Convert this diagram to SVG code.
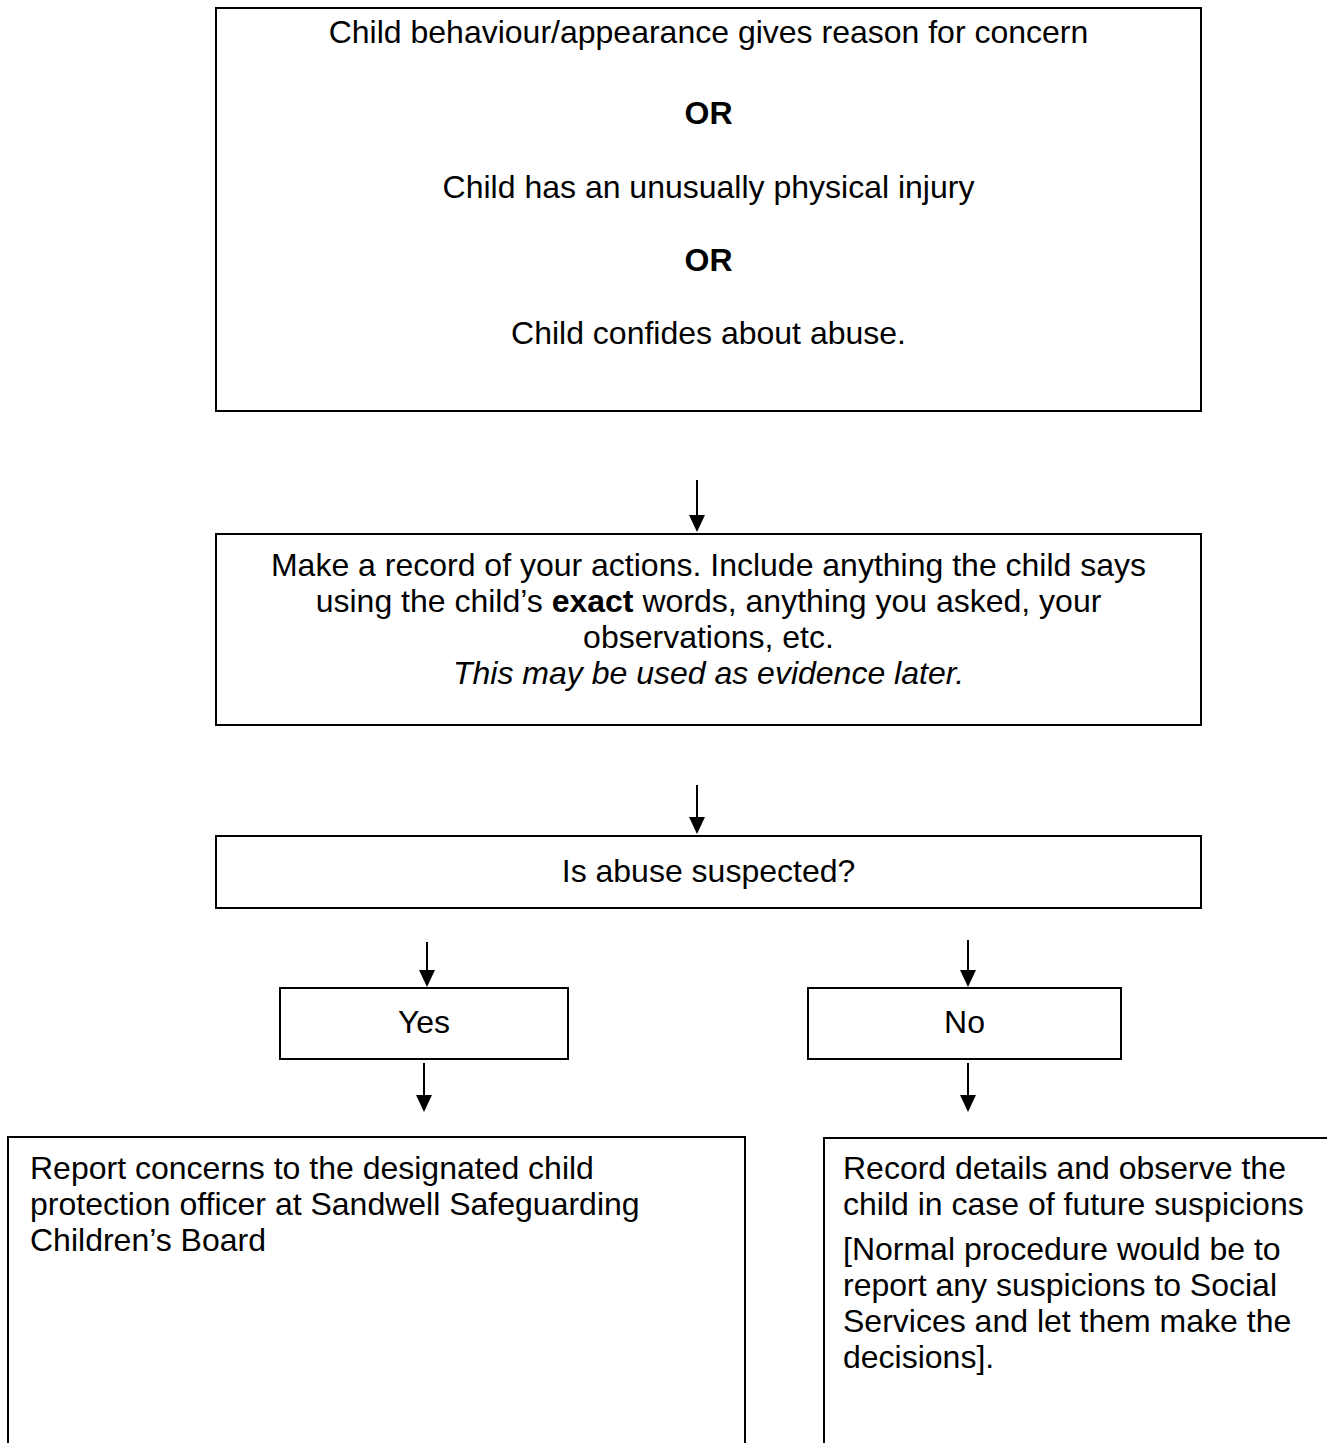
<svg xmlns="http://www.w3.org/2000/svg" width="1327" height="1443" viewBox="0 0 1327 1443">
<style>
.box{fill:#fff;stroke:#000;stroke-width:2}
.t{font-family:"Liberation Sans",Arial,sans-serif;font-size:32px;fill:#000}
.c{text-anchor:middle}
.b{font-weight:bold}
.i{font-style:italic}
.conn{stroke:#000;stroke-width:2;fill:none}
.head{fill:#000}
</style>
<rect width="1327" height="1443" fill="#fff"/>
<g id="connectors">
<path d="M697,480 V520" class="conn"/>
<polygon class="head" points="689,515 705,515 697,532"/>
<path d="M697,785 V822" class="conn"/>
<polygon class="head" points="689,817 705,817 697,834"/>
<path d="M427,942 V975" class="conn"/>
<polygon class="head" points="419,970 435,970 427,987"/>
<path d="M968,940 V975" class="conn"/>
<polygon class="head" points="960,970 976,970 968,987"/>
<path d="M424,1063 V1100" class="conn"/>
<polygon class="head" points="416,1095 432,1095 424,1112"/>
<path d="M968,1063 V1100" class="conn"/>
<polygon class="head" points="960,1095 976,1095 968,1112"/>
</g>
<g id="n-start">
<rect class="box" x="216" y="8" width="985" height="403"/>
<text class="t c" x="708.5" y="43">Child behaviour/appearance gives reason for concern</text>
<text class="t c b" x="708.5" y="124">OR</text>
<text class="t c" x="708.5" y="198">Child has an unusually physical injury</text>
<text class="t c b" x="708.5" y="271">OR</text>
<text class="t c" x="708.5" y="344">Child confides about abuse.</text>
</g>
<g id="n-record">
<rect class="box" x="216" y="534" width="985" height="191"/>
<text class="t c" x="708.5" y="576">Make a record of your actions. Include anything the child says</text>
<text class="t c" x="708.5" y="612">using the child’s <tspan class="b">exact</tspan> words, anything you asked, your</text>
<text class="t c" x="708.5" y="648">observations, etc.</text>
<text class="t c i" x="708.5" y="684">This may be used as evidence later.</text>
</g>
<g id="n-question">
<rect class="box" x="216" y="836" width="985" height="72"/>
<text class="t c" x="708.5" y="882">Is abuse suspected?</text>
</g>
<g id="n-yes">
<rect class="box" x="280" y="988" width="288" height="71"/>
<text class="t c" x="424" y="1033">Yes</text>
</g>
<g id="n-no">
<rect class="box" x="808" y="988" width="313" height="71"/>
<text class="t c" x="964.5" y="1033">No</text>
</g>
<g id="n-report">
<rect class="box" x="8" y="1137" width="737" height="320"/>
<text class="t" x="30" y="1179">Report concerns to the designated child</text>
<text class="t" x="30" y="1215">protection officer at Sandwell Safeguarding</text>
<text class="t" x="30" y="1251">Children’s Board</text>
</g>
<g id="n-observe">
<rect class="box" x="824" y="1138" width="520" height="320"/>
<text class="t" x="843" y="1179">Record details and observe the</text>
<text class="t" x="843" y="1215">child in case of future suspicions</text>
<text class="t" x="843" y="1260">[Normal procedure would be to</text>
<text class="t" x="843" y="1296">report any suspicions to Social</text>
<text class="t" x="843" y="1332">Services and let them make the</text>
<text class="t" x="843" y="1368">decisions].</text>
</g>
</svg>
